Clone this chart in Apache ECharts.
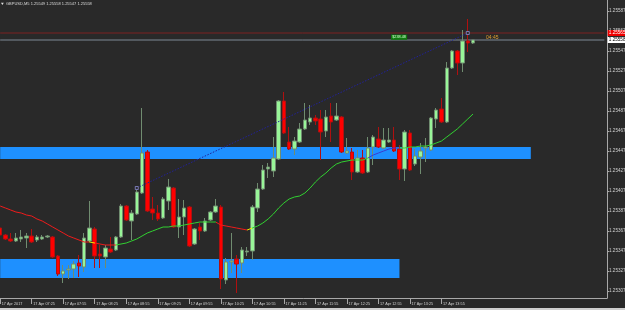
<!DOCTYPE html>
<html><head><meta charset="utf-8">
<script src="https://cdn.jsdelivr.net/npm/echarts@6/dist/echarts.min.js"></script>
<style>html,body{margin:0;padding:0;background:#292929;overflow:hidden}#c{width:625px;height:310px}</style>
</head><body><div id="c"></div>
<script>
// ---------- data ----------
const symbolText = 'GBPUSD,M5';
const headerOHLC = [1.25549, 1.25558, 1.25547, 1.25558];
const firstBarMinutes = 6 * 60 + 55;   // 06:55
const slotCount = 116;                  // visible bar slots (incl. empty future)
const firstTickLabel = '17 Apr 2017';
const datePrefix = '17 Apr ';

const open = [1.25370,1.25363,1.25359,1.25357,1.25359,1.25360,1.25362,1.25358,1.25359,1.25361,
1.25361,1.25342,1.25324,1.25328,1.25329,1.25335,1.25331,1.25357,1.25369,1.25344,
1.25341,1.25349,1.25348,1.25361,1.25392,1.25377,1.25384,1.25405,1.25446,1.25389,
1.25385,1.25380,1.25397,1.25410,1.25371,1.25381,1.25391,1.25354,1.25371,1.25367,
1.25378,1.25386,1.25391,1.25318,1.25336,1.25339,1.25335,1.25346,1.25347,1.25390,
1.25409,1.25429,1.25427,1.25439,1.25497,1.25456,1.25449,1.25456,1.25469,1.25476,
1.25480,1.25479,1.25467,1.25482,1.25478,1.25481,1.25445,1.25446,1.25426,1.25440,
1.25426,1.25451,1.25459,1.25450,1.25456,1.25458,1.25449,1.25429,1.25465,1.25434,
1.25441,1.25450,1.25448,1.25479,1.25489,1.25476,1.25530,1.25547,1.25535,1.25557,
1.25555];
const close = [1.25363,1.25359,1.25357,1.25360,1.25361,1.25362,1.25356,1.25361,1.25361,1.25362,
1.25341,1.25324,1.25327,1.25329,1.25334,1.25332,1.25360,1.25370,1.25342,1.25342,
1.25350,1.25346,1.25361,1.25392,1.25378,1.25385,1.25406,1.25445,1.25387,1.25385,
1.25379,1.25399,1.25411,1.25371,1.25381,1.25390,1.25352,1.25369,1.25367,1.25377,
1.25386,1.25392,1.25319,1.25336,1.25337,1.25334,1.25348,1.25347,1.25391,1.25409,
1.25428,1.25431,1.25440,1.25497,1.25465,1.25449,1.25457,1.25469,1.25478,1.25480,
1.25477,1.25466,1.25481,1.25476,1.25482,1.25446,1.25447,1.25426,1.25440,1.25425,
1.25450,1.25461,1.25451,1.25458,1.25458,1.25447,1.25429,1.25466,1.25428,1.25442,
1.25447,1.25451,1.25480,1.25488,1.25476,1.25530,1.25547,1.25535,1.25557,1.25555,
1.25558];
const low = [1.25362,1.25358,1.25356,1.25356,1.25356,1.25350,1.25355,1.25356,1.25358,1.25360,
1.25340,1.25322,1.25315,1.25319,1.25320,1.25321,1.25326,1.25356,1.25330,1.25330,
1.25330,1.25345,1.25347,1.25360,1.25377,1.25358,1.25383,1.25404,1.25386,1.25378,
1.25377,1.25379,1.25388,1.25370,1.25360,1.25363,1.25351,1.25353,1.25358,1.25366,
1.25377,1.25385,1.25309,1.25314,1.25325,1.25305,1.25325,1.25342,1.25338,1.25386,
1.25408,1.25420,1.25421,1.25438,1.25464,1.25448,1.25443,1.25455,1.25468,1.25473,
1.25473,1.25438,1.25461,1.25456,1.25477,1.25445,1.25444,1.25418,1.25425,1.25424,
1.25425,1.25433,1.25450,1.25449,1.25455,1.25446,1.25418,1.25417,1.25427,1.25432,
1.25424,1.25436,1.25447,1.25470,1.25475,1.25475,1.25529,1.25523,1.25526,1.25546,
1.25554];
const high = [1.25372,1.25364,1.25365,1.25365,1.25368,1.25365,1.25369,1.25363,1.25363,1.25363,
1.25362,1.25343,1.25333,1.25333,1.25337,1.25343,1.25365,1.25397,1.25371,1.25353,
1.25353,1.25361,1.25362,1.25394,1.25393,1.25388,1.25408,1.25490,1.25448,1.25401,
1.25393,1.25401,1.25419,1.25411,1.25399,1.25398,1.25392,1.25370,1.25375,1.25380,
1.25387,1.25399,1.25393,1.25340,1.25365,1.25343,1.25351,1.25351,1.25393,1.25415,
1.25433,1.25435,1.25461,1.25498,1.25506,1.25471,1.25461,1.25475,1.25495,1.25493,
1.25483,1.25488,1.25488,1.25495,1.25495,1.25482,1.25460,1.25450,1.25448,1.25448,
1.25461,1.25463,1.25471,1.25470,1.25470,1.25471,1.25453,1.25468,1.25468,1.25449,
1.25455,1.25460,1.25481,1.25490,1.25500,1.25536,1.25548,1.25548,1.25568,1.25579,
1.25558];
const movingAvg = [1.25392,1.25390,1.25388,1.25386,1.25385,1.25383,1.25382,1.25379,1.25377,1.25374,
1.25371,1.25368,1.25365,1.25362,1.25360,1.25358,1.25356,1.25356,1.25355,1.25354,
1.25353,1.25353,1.25353,1.25354,1.25355,1.25357,1.25359,1.25362,1.25365,1.25367,
1.25369,1.25371,1.25371,1.25372,1.25372,1.25373,1.25374,1.25375,1.25376,1.25376,
1.25376,1.25376,1.25373,1.25372,1.25371,1.25370,1.25369,1.25368,1.25370,1.25372,
1.25375,1.25379,1.25384,1.25390,1.25395,1.25399,1.25401,1.25402,1.25405,1.25410,
1.25416,1.25421,1.25425,1.25430,1.25434,1.25436,1.25437,1.25438,1.25438,1.25438,
1.25440,1.25443,1.25445,1.25447,1.25449,1.25450,1.25450,1.25450,1.25451,1.25451,
1.25452,1.25452,1.25453,1.25455,1.25457,1.25461,1.25465,1.25469,1.25474,1.25479,
1.25484];
const yTickValues = [1.25307,1.25327,1.25347,1.25367,1.25387,1.25407,1.25427,1.25447,
1.25467,1.25487,1.25507,1.25527,1.25547,1.25567,1.25587];
const yMin = 1.25300, yMax = 1.25598;
const zoneUpper = {from: 0, to: 101, lo: 1.25439, hi: 1.25451};
const zoneLower = {from: 0, to: 76, lo: 1.25320, hi: 1.25339};
const trendLine = [[26, 1.25410], [89, 1.25565]];
const askPrice = 1.25565, bidPrice = 1.25558;
const profitText = '$238.48';
const countdownText = '04:45';

// ---------- build ----------
const categories = [];
for (let k = 0; k < slotCount; k++) {
  const m = firstBarMinutes + 5 * k;
  categories.push(String(Math.floor(m / 60)).padStart(2, '0') + ':' + String(m % 60).padStart(2, '0'));
}
const candles = open.map((o, i) => [o, close[i], low[i], high[i]]);
const lastBar = open.length - 1;
const FONT = 'Liberation Sans';
const tickEvery = (idx) => idx % 6 === 0 && idx <= lastBar;

const RED = '#ee1a1a', YEL = '#f0f000', GRN = '#30d030';

function priceLine(price, lineColor, boxColor, textColor) {
  return {
    type: 'line', z: 2, silent: true, symbol: 'none', showSymbol: false,
    data: [[categories[0], price], [categories[slotCount - 1], price]],
    lineStyle: {color: lineColor, width: 1, type: 'solid'},
    endLabel: {show: true, distance: 3.3, formatter: () => price.toFixed(5), color: textColor,
      backgroundColor: boxColor, fontSize: 4.6, fontFamily: FONT, padding: [0.6, 3, 0.4, 1.2]}
  };
}

const chart = echarts.init(document.getElementById('c'), null, {renderer: 'canvas'});
chart.setOption({
  backgroundColor: '#292929',
  animation: false,
  grid: {left: -2.45, right: 18, top: 0, bottom: 12, containLabel: false, outerBoundsMode: 'none'},
  xAxis: {
    type: 'category', data: categories, boundaryGap: true,
    axisLine: {lineStyle: {color: '#a8a8a8', width: 1}},
    axisTick: {show: true, alignWithLabel: true, interval: (i) => tickEvery(i), length: 6, lineStyle: {color: '#a8a8a8'}},
    axisLabel: {
      interval: (i) => tickEvery(i), showMaxLabel: false, showMinLabel: true,
      formatter: (v, i) => (i === 0 ? firstTickLabel : datePrefix + v),
      color: '#d0d0d0', fontSize: 3.8, fontFamily: FONT, align: 'left', margin: 3.5, padding: [0, 0, 0, 1.5]
    },
    splitLine: {show: false}
  },
  yAxis: {
    type: 'value', position: 'right', min: yMin, max: yMax, scale: true,
    axisLine: {show: true, lineStyle: {color: '#a8a8a8', width: 1}},
    axisTick: {show: true, customValues: yTickValues, length: 2, lineStyle: {color: '#a8a8a8'}},
    axisLabel: {customValues: yTickValues, formatter: (v) => v.toFixed(5), color: '#d0d0d0', fontSize: 4.6, fontFamily: FONT, margin: 2},
    splitLine: {show: false}
  },
  visualMap: {
    type: 'piecewise', show: false, dimension: 0, seriesIndex: 2,
    pieces: [
      {lt: 16.5, color: RED}, {gte: 16.5, lt: 17.7, color: YEL}, {gte: 17.7, lt: 21.9, color: RED},
      {gte: 21.9, lt: 36.5, color: GRN}, {gte: 36.5, lt: 37.3, color: YEL}, {gte: 37.3, lt: 41.3, color: GRN},
      {gte: 41.3, lt: 47, color: RED}, {gte: 47, lt: 47.8, color: YEL}, {gte: 47.8, lt: 70, color: GRN},
      {gte: 70, lt: 75.5, color: '#3a3ad0'}, {gte: 75.5, color: GRN}
    ]
  },
  series: [
    {
      type: 'line', data: [], z: 1, silent: true,
      markArea: {
        silent: true, z: 1,
        itemStyle: {color: '#1e90ff', opacity: 1},
        data: [
          [{xAxis: categories[zoneUpper.from], yAxis: zoneUpper.lo}, {xAxis: categories[zoneUpper.to], yAxis: zoneUpper.hi}],
          [{xAxis: categories[zoneLower.from], yAxis: zoneLower.lo}, {xAxis: categories[zoneLower.to], yAxis: zoneLower.hi}]
        ]
      }
    },
    {
      type: 'candlestick', data: candles, z: 3, barWidth: 4,
      itemStyle: {color: '#98f598', color0: '#ff0000', borderColor: '#708c70', borderColor0: '#b01010', borderWidth: 1}
    },
    {
      type: 'line', data: movingAvg, z: 4, showSymbol: false, symbol: 'none', smooth: false,
      lineStyle: {width: 1}
    },
    {
      type: 'line', z: 4, data: trendLine.map(p => [categories[p[0]], p[1]]),
      symbol: 'rect', symbolSize: 3, showSymbol: true,
      itemStyle: {color: '#29292f', borderColor: '#8c8cd0', borderWidth: 0.8},
      lineStyle: {color: '#22229a', width: 1, type: [1.5, 1.5]}
    },
    priceLine(askPrice, '#7c2222', '#ee0000', '#ffffff'),
    priceLine(bidPrice, '#7f8a96', '#ffffff', '#000000')
  ],
  graphic: [
    {type: 'polygon', shape: {points: [[1, 2.8], [3.8, 2.8], [2.4, 5]]}, style: {fill: '#e0e0e0'}, z: 10},
    {type: 'text', x: 6, y: 4, z: 10, style: {text: symbolText + ' ' + headerOHLC.map(v => v.toFixed(5)).join(' '), fill: '#dcdcdc', font: '4px ' + FONT, textVerticalAlign: 'middle'}},
    {type: 'text', x: 391, y: 37.2, z: 10, style: {text: profitText, fill: '#d8ffd8', font: '3.8px ' + FONT, textVerticalAlign: 'middle', backgroundColor: '#0f7a0f', padding: [0.6, 1.2]}},
    {type: 'text', x: 486, y: 38, z: 10, style: {text: countdownText, fill: '#e0a030', font: '5px ' + FONT, textVerticalAlign: 'middle'}},
    {type: 'rect', shape: {x: 0, y: 308, width: 625, height: 2}, style: {fill: '#cfcfcf'}, z: 10}
  ]
});
</script></body></html>
